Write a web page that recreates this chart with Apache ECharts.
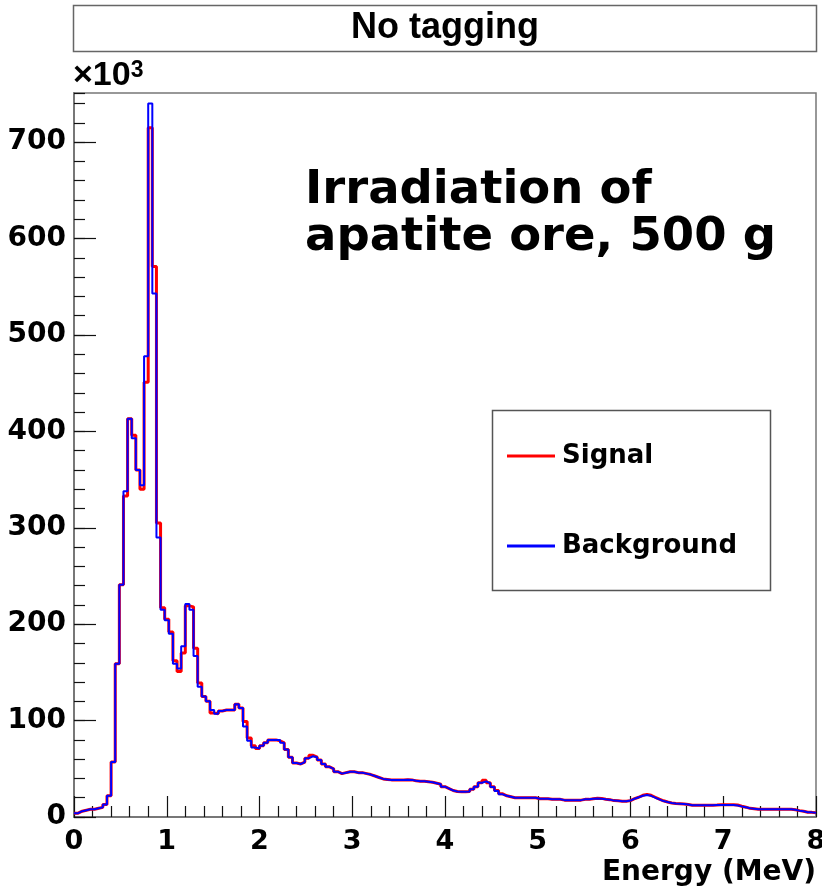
<!DOCTYPE html>
<html>
<head>
<meta charset="utf-8">
<script src="https://cdn.jsdelivr.net/npm/echarts@6/dist/echarts.min.js"></script>
<style>
  html, body { margin: 0; padding: 0; background: #ffffff; }
  #chart { width: 822px; height: 891px; }
</style>
</head>
<body>
<div id="chart"></div>
<script>
// Energy spectrum binning (MeV)
const energyMin = 0;
const energyMax = 8;
const binCount = 180;

// Counts per bin, in units of 10^3
const signal = [
  4, 6, 7, 8, 8, 9, 10, 13, 22, 57,
  159, 241, 333, 413, 396, 360, 340, 451, 715, 571,
  305, 217, 205, 192, 162, 151, 170, 219, 218, 175,
  139, 125, 120, 108, 107, 110, 111, 111, 111, 117,
  113, 99, 82, 74, 71, 74, 77, 80, 80, 79,
  77, 70, 62, 56, 55, 57, 61, 64, 62, 59,
  55, 52, 50, 47, 45, 46, 47, 47, 46, 46,
  45, 44, 42.5, 41, 39.5, 39, 38.5, 38.5, 38.5, 38.5,
  38.7, 38.5, 37.5, 37, 37, 36.5, 36, 35, 34, 31.5,
  29.5, 27.5, 26.5, 26.3, 26.3, 26.5, 28.7, 31.5, 35.6, 38,
  35.5, 31.5, 27.5, 24, 22, 21, 20, 20, 20, 20,
  20, 20, 19, 19, 19, 18.5, 18.3, 18.3, 17.5, 17.3,
  17.3, 17.3, 17.5, 18.3, 18.3, 19, 19.5, 19.3, 18.5, 18,
  17, 16.8, 16.3, 16.3, 17, 19, 20.5, 22.5, 23.5, 22.5,
  20.5, 18.5, 16.8, 15.5, 14.5, 14, 13.8, 13.5, 13, 12.1,
  12.1, 12.1, 12.1, 12.1, 12.1, 12.4, 12.8, 12.8, 12.8, 12.8,
  12.4, 11.2, 10.2, 9, 8.5, 8, 8, 8, 8, 8,
  8, 8, 8, 8, 7.5, 6.6, 6, 5, 4.8, 4.5
];

const background = [
  4, 6, 7, 8, 8, 9, 10, 13, 22, 57,
  159, 241, 338, 413, 393, 360, 344, 478, 740, 543,
  290, 215, 204, 190, 159, 154, 177, 221, 215, 167,
  135, 125, 120, 111, 107, 110, 111, 111, 111, 117,
  113, 94, 79, 72, 71, 74, 77, 80, 80, 80,
  77, 70, 62, 56, 55, 57, 61, 63, 62, 59,
  55, 52, 50, 47, 45, 46, 47, 47, 46, 46,
  45, 44, 42.5, 41, 39.5, 39, 38.5, 38.5, 38.5, 38.5,
  38.7, 38.5, 37.5, 37, 37, 36.5, 36, 35, 34, 31.5,
  29.5, 27.5, 26.5, 26.3, 26.3, 26.5, 28.7, 31.5, 35.6, 37,
  35, 31, 27, 23.5, 22, 21, 20, 20, 20, 20,
  20, 20, 19, 19, 19, 18.5, 18.3, 18.3, 17.5, 17.3,
  17.3, 17.3, 17.5, 18.3, 18.3, 19, 19.3, 19, 18.3, 18,
  17, 16.8, 16.3, 16.3, 17, 19, 20.5, 22, 22.8, 22,
  20, 18.3, 16.5, 15.5, 14.5, 14, 13.8, 13.5, 13, 12.1,
  12.1, 12.1, 12.1, 12.1, 12.1, 12.4, 12.4, 12.4, 12.4, 12.4,
  12, 11, 10.2, 9, 8.5, 8, 8, 8, 8, 8,
  8, 8, 8, 8, 7.5, 6.6, 6, 5, 4.8, 4.5
];

const seriesNames = ['Signal', 'Background'];
const panelTitle = 'No tagging';
const sampleNote = ['Irradiation of', 'apatite ore, 500 g'];
const xAxisTitle = 'Energy (MeV)';
const yMax = 751;

const FONT = '"DejaVu Sans", sans-serif';
const binWidth = (energyMax - energyMin) / binCount;

// Histogram outline: one point at each bin's lower edge plus the closing edge
function histogramPoints(values) {
  const pts = values.map((v, i) => [energyMin + i * binWidth, v]);
  pts.push([energyMax, values[values.length - 1]]);
  return pts;
}

const chart = echarts.init(document.getElementById('chart'), null, { renderer: 'canvas' });

const gridBox = { left: 74, right: 6, top: 93, bottom: 74 };

chart.setOption({
  animation: false,
  backgroundColor: '#ffffff',
  grid: Object.assign({
    show: true, borderColor: '#777', borderWidth: 1.5, backgroundColor: 'transparent',
    containLabel: false, outerBoundsMode: 'none'
  }, gridBox),
  legend: {
    orient: 'vertical',
    left: 502,
    top: 437,
    icon: 'rect',
    itemWidth: 48,
    itemHeight: 3,
    itemGap: 62,
    data: seriesNames,
    textStyle: {
      fontFamily: FONT,
      fontWeight: 'bold',
      fontSize: 26,
      color: '#000',
      lineHeight: 28,
      padding: [0, 0, 0, 2]
    }
  },
  xAxis: {
    type: 'value',
    min: energyMin,
    max: energyMax,
    interval: 1,
    name: xAxisTitle,
    nameLocation: 'end',
    nameGap: 0,
    nameMoveOverlap: false,
    nameTextStyle: {
      fontFamily: FONT, fontWeight: 'bold', fontSize: 28, color: '#000',
      align: 'right', verticalAlign: 'top', padding: [42, 0, 0, 0]
    },
    axisLine: { show: true, onZero: false, lineStyle: { color: '#777', width: 2 } },
    axisTick: { show: true, inside: true, length: 21, lineStyle: { color: '#111', width: 1.2 } },
    minorTick: { show: true, splitNumber: 5, length: 11, lineStyle: { color: '#111', width: 1.2 } },
    splitLine: { show: false },
    axisLabel: {
      fontFamily: FONT, fontWeight: 'bold', fontSize: 27, color: '#000', margin: 11
    }
  },
  yAxis: [
    {
      type: 'value',
      min: 0,
      max: yMax,
      interval: 100,
      axisLine: { show: true, lineStyle: { color: '#777', width: 2 } },
      axisTick: { show: true, inside: true, length: 22, lineStyle: { color: '#111', width: 1.2 } },
      splitLine: { show: false },
      axisLabel: {
        fontFamily: FONT, fontWeight: 'bold', fontSize: 28, color: '#000', margin: 8,
        showMaxLabel: false
      }
    },
    {
      // finer division ticks every 20 (x10^3)
      type: 'value',
      min: 0,
      max: yMax,
      interval: 20,
      position: 'left',
      axisLine: { show: false },
      axisTick: { show: true, inside: true, length: 11, lineStyle: { color: '#111', width: 1.2 } },
      splitLine: { show: false },
      axisLabel: { show: false }
    }
  ],
  series: [
    {
      name: seriesNames[0],
      type: 'line',
      step: 'end',
      showSymbol: false,
      symbol: 'none',
      yAxisIndex: 0,
      data: histogramPoints(signal),
      lineStyle: { color: '#ff0000', width: 3 },
      itemStyle: { color: '#ff0000' },
      z: 2
    },
    {
      name: seriesNames[1],
      type: 'line',
      step: 'end',
      showSymbol: false,
      symbol: 'none',
      yAxisIndex: 0,
      data: histogramPoints(background),
      lineStyle: { color: '#0000ff', width: 2 },
      itemStyle: { color: '#0000ff' },
      z: 3
    }
  ],
  graphic: [
    {
      type: 'rect',
      shape: { x: 73.5, y: 5.5, width: 743, height: 46 },
      style: { fill: '#ffffff', stroke: '#666', lineWidth: 1.5 }
    },
    {
      type: 'text',
      x: 445, y: 28,
      style: {
        text: panelTitle,
        font: 'bold 36px "Liberation Sans", sans-serif',
        fill: '#000', align: 'center', verticalAlign: 'middle'
      }
    },
    {
      type: 'text',
      x: 73, y: 93,
      style: {
        text: '{m|×10}{s|3}',
        verticalAlign: 'bottom',
        rich: {
          m: { font: 'bold 34px "Liberation Sans", sans-serif', fill: '#000', verticalAlign: 'bottom' },
          s: { font: 'bold 23px "Liberation Sans", sans-serif', fill: '#000', verticalAlign: 'top' }
        }
      }
    },
    {
      type: 'text',
      x: 305, y: 167,
      style: {
        text: sampleNote[0],
        font: 'bold 46.5px ' + FONT,
        fill: '#000', verticalAlign: 'top'
      }
    },
    {
      type: 'text',
      x: 305, y: 214,
      style: {
        text: sampleNote[1],
        font: 'bold 46.5px ' + FONT,
        fill: '#000', verticalAlign: 'top'
      }
    },
    {
      type: 'rect',
      z: -1,
      shape: { x: 492.5, y: 410.5, width: 278, height: 180 },
      style: { fill: '#ffffff', stroke: '#555', lineWidth: 1.5 }
    }
  ]
});
</script>
</body>
</html>
